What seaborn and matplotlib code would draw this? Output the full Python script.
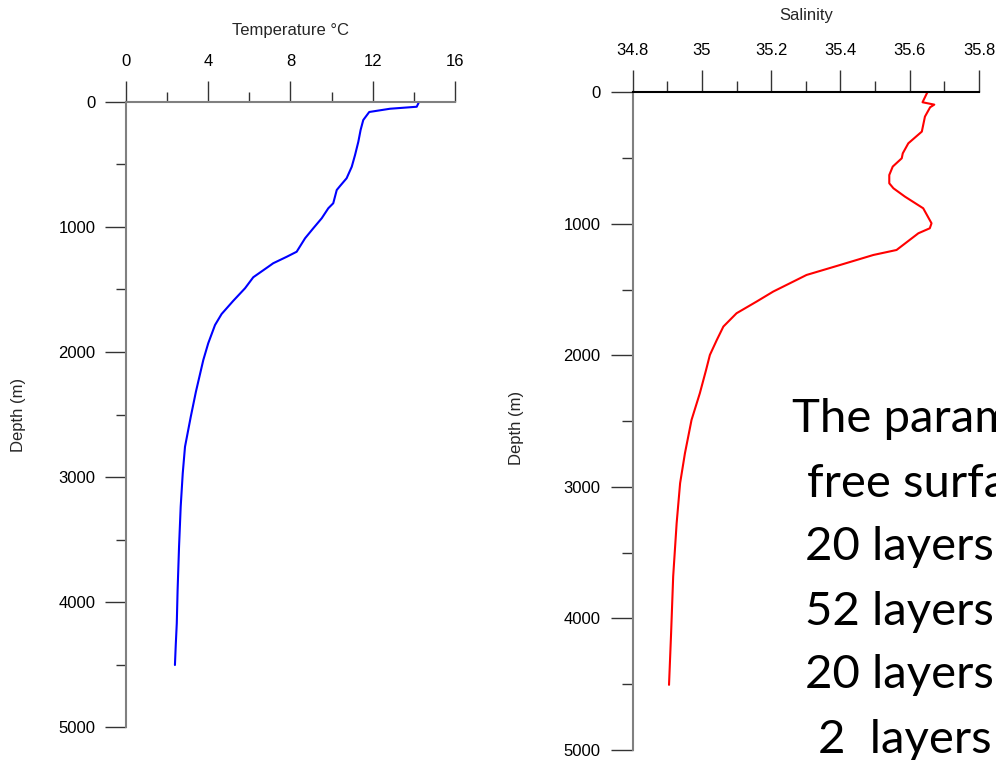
import matplotlib
matplotlib.use("Agg")
import matplotlib.pyplot as plt
import seaborn as sns
import pandas as pd
from matplotlib.ticker import MultipleLocator, FixedLocator

# Temperature profile (°C) against depth (m)
temp_depth = [0, 38, 54, 80, 144, 224, 318, 424, 518, 610, 672, 704, 810, 850, 930,
              1010, 1090, 1198, 1238, 1290, 1318, 1402, 1490, 1590, 1696, 1784, 1930,
              2064, 2318, 2518, 2758, 2970, 3238, 3558, 3904, 4170, 4344, 4504]
temperature = [14.25, 14.14, 12.84, 11.83, 11.54, 11.41, 11.30, 11.14, 10.98, 10.73,
               10.41, 10.25, 10.08, 9.84, 9.52, 9.11, 8.71, 8.30, 7.82, 7.16, 6.92,
               6.19, 5.79, 5.22, 4.65, 4.33, 4.00, 3.76, 3.40, 3.15, 2.87, 2.76, 2.66,
               2.58, 2.51, 2.47, 2.42, 2.38]

# Salinity profile against depth (m)
sal_depth = [0, 76, 94, 114, 185, 299, 388, 464, 502, 565, 629, 692, 730, 793, 882,
             996, 1034, 1072, 1199, 1237, 1313, 1389, 1439, 1515, 1591, 1680, 1781,
             1883, 1997, 2111, 2288, 2491, 2744, 2972, 3276, 3681, 4112, 4505]
salinity = [35.651, 35.637, 35.671, 35.659, 35.644, 35.635, 35.596, 35.580, 35.577,
            35.551, 35.541, 35.541, 35.553, 35.586, 35.639, 35.663, 35.658, 35.625,
            35.562, 35.495, 35.399, 35.302, 35.264, 35.206, 35.158, 35.100, 35.062,
            35.043, 35.023, 35.012, 34.994, 34.970, 34.951, 34.937, 34.927, 34.917,
            34.911, 34.905]

temp_ticks = [0, 4, 8, 12, 16]
sal_ticks = [34.8, 35.0, 35.2, 35.4, 35.6, 35.8]
sal_tick_labels = ["34.8", "35", "35.2", "35.4", "35.6", "35.8"]
depth_ticks = [0, 1000, 2000, 3000, 4000, 5000]

notes = ["The parameters", "free surface", "20 layers", "52 layers", "20 layers", "2  layers"]

sns.set_style("white")
plt.rcParams["font.family"] = ["Liberation Sans", "DejaVu Sans"]

fig = plt.figure(figsize=(9.96, 7.6), dpi=100)
ax_t = fig.add_axes([0.1265, 0.0434, 0.3303, 0.8224])
ax_s = fig.add_axes([0.6352, 0.0132, 0.3477, 0.8654])

df_t = pd.DataFrame({"Temperature": temperature, "Depth": temp_depth})
df_s = pd.DataFrame({"Salinity": salinity, "Depth": sal_depth})

sns.lineplot(data=df_t, x="Temperature", y="Depth", sort=False, estimator=None,
             color="#0000ff", linewidth=1.5, ax=ax_t)
sns.lineplot(data=df_s, x="Salinity", y="Depth", sort=False, estimator=None,
             color="#ff0000", linewidth=1.5, ax=ax_s)


def style_axis(ax, xlim, xticks, xlabels, xminor, major_len, minor_len,
               top_color, xlabel, xlabel_y, ylabel_x, ylabel_y):
    ax.set_xlim(*xlim)
    ax.set_ylim(5000, 0)
    ax.xaxis.tick_top()
    ax.xaxis.set_label_position("top")
    ax.xaxis.set_major_locator(FixedLocator(xticks))
    ax.set_xticklabels(xlabels)
    ax.xaxis.set_minor_locator(MultipleLocator(xminor))
    ax.yaxis.set_major_locator(FixedLocator(depth_ticks))
    ax.yaxis.set_minor_locator(MultipleLocator(500))
    ax.tick_params(axis="both", which="major", direction="out", length=major_len,
                   width=1, color="#333333", labelsize=12, labelcolor="black")
    ax.tick_params(axis="both", which="minor", direction="out", length=minor_len,
                   width=1, color="#333333")
    ax.tick_params(axis="x", which="both", top=True, bottom=False, pad=9)
    ax.tick_params(axis="y", which="both", left=True, right=False, pad=7)
    for side in ("right", "bottom"):
        ax.spines[side].set_visible(False)
    ax.spines["left"].set_color("#808080")
    ax.spines["left"].set_linewidth(1.5)
    ax.spines["top"].set_color(top_color)
    ax.spines["top"].set_linewidth(1.5)
    ax.grid(False)
    ax.set_xlabel(xlabel, fontsize=12)
    ax.set_ylabel("Depth (m)", fontsize=12)
    ax.xaxis.set_label_coords(0.5, xlabel_y)
    ax.xaxis.label.set_verticalalignment("center")
    ax.yaxis.set_label_coords(ylabel_x, ylabel_y)
    ax.yaxis.label.set_verticalalignment("center")


style_axis(ax_t, (0, 16), temp_ticks, [str(t) for t in temp_ticks], 2, 15, 7.5,
           "#808080", "Temperature \u00b0C", 1.115, -0.328, 0.5)
style_axis(ax_s, (34.8, 35.8), sal_ticks, sal_tick_labels, 0.1, 16, 8,
           "black", "Salinity", 1.117, -0.334, 0.49)

# Model setup notes on the right-hand side
note_x = [0.795, 0.810, 0.808, 0.808, 0.808, 0.821]
note_base_px = [432, 497, 560, 625, 688, 753]
for text, x, ypx in zip(notes, note_x, note_base_px):
    fig.text(x, 1 - ypx / 760, text, fontsize=34, family=["Lato", "DejaVu Sans"],
             color="black", ha="left", va="baseline")

fig.savefig("out.png", dpi=100)
